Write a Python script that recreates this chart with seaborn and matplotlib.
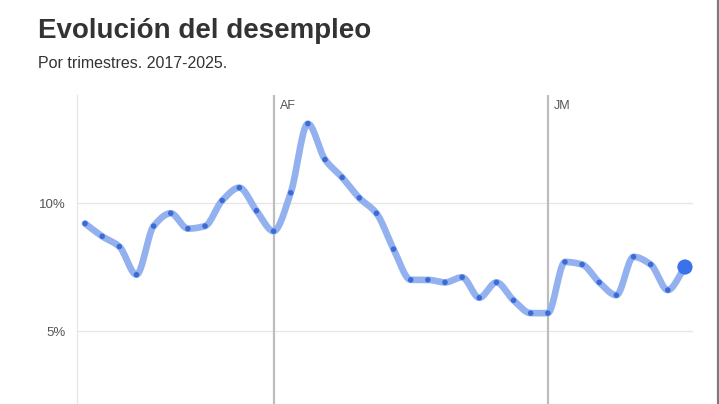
"""Evolución del desempleo: tasa trimestral 2017-2025."""

import matplotlib

matplotlib.use("Agg")

import matplotlib.pyplot as plt
import numpy as np
import pandas as pd
import seaborn as sns
from matplotlib.lines import Line2D

# quarters 2017Q1 .. 2025Q4
quarters = [f"{y}T{q}" for y in range(2017, 2026) for q in range(1, 5)]
unemployment = [
    9.2, 8.7, 8.3, 7.2,
    9.1, 9.6, 9.0, 9.1,
    10.1, 10.6, 9.7, 8.9,
    10.4, 13.1, 11.7, 11.0,
    10.2, 9.6, 8.2, 7.0,
    7.0, 6.9, 7.1, 6.3,
    6.9, 6.2, 5.7, 5.7,
    7.7, 7.6, 6.9, 6.4,
    7.9, 7.6, 6.6, 7.5,
]
markers_labels = ["AF", "JM"]
markers_quarters = ["2019T4", "2023T4"]
y_ticks = [5, 10]
y_tick_labels = ["5%", "10%"]

LINE_COLOR = "#93b1ee"
DOT_COLOR = "#3d6bd6"
LAST_COLOR = "#3a72ea"
TEXT_DARK = "#333333"
TEXT_MID = "#555555"


def monotone_curve(x, y, steps=16):
    """Monotone cubic (Fritsch-Carlson) through the points, only for drawing."""
    x = np.asarray(x, dtype=float)
    y = np.asarray(y, dtype=float)
    h = np.diff(x)
    d = np.diff(y) / h
    m = np.zeros_like(y)
    m[0], m[-1] = d[0], d[-1]
    for i in range(1, len(y) - 1):
        if d[i - 1] * d[i] <= 0:
            m[i] = 0.0
        else:
            w1 = 2 * h[i] + h[i - 1]
            w2 = h[i] + 2 * h[i - 1]
            m[i] = (w1 + w2) / (w1 / d[i - 1] + w2 / d[i])
    xs, ys = [], []
    t = np.linspace(0, 1, steps, endpoint=False)
    for i in range(len(y) - 1):
        h00 = 2 * t ** 3 - 3 * t ** 2 + 1
        h10 = t ** 3 - 2 * t ** 2 + t
        h01 = -2 * t ** 3 + 3 * t ** 2
        h11 = t ** 3 - t ** 2
        xs.extend(x[i] + t * h[i])
        ys.extend(h00 * y[i] + h10 * h[i] * m[i] + h01 * y[i + 1] + h11 * h[i] * m[i + 1])
    xs.append(x[-1])
    ys.append(y[-1])
    return np.array(xs), np.array(ys)


data = pd.DataFrame({"quarter": quarters, "rate": unemployment})
data["idx"] = np.arange(len(data))

sns.set_theme(style="white")
plt.rcParams["font.family"] = ["Liberation Sans", "DejaVu Sans"]

fig = plt.figure(figsize=(7.19, 4.04), dpi=100)
ax = fig.add_axes([77 / 719, 0, (693 - 77) / 719, (404 - 95) / 404])

n = len(data)
ax.set_xlim(-0.47, n - 1 + 0.47)
ax.set_ylim(2.15, 14.22)

for val in y_ticks:
    ax.axhline(val, color="#e6e6e6", linewidth=0.9, zorder=0)

for label, q in zip(markers_labels, markers_quarters):
    pos = quarters.index(q)
    ax.axvline(pos, color="#bdbdbd", linewidth=1.6, zorder=1)
    ax.text(pos + 0.38, 13.8, label, fontsize=9, color=TEXT_MID,
            ha="left", va="center")

sx, sy = monotone_curve(data["idx"], data["rate"])
ax.plot(sx, sy, color=LINE_COLOR, linewidth=4.8, solid_capstyle="round", zorder=2)
sns.scatterplot(data=data.iloc[:-1], x="idx", y="rate", ax=ax, color=DOT_COLOR,
                s=16, edgecolor="none", zorder=3, legend=False)
sns.scatterplot(data=data.iloc[-1:], x="idx", y="rate", ax=ax, color=LAST_COLOR,
                s=120, edgecolor="none", zorder=4, legend=False)

ax.set_xticks([])
ax.set_yticks(y_ticks)
ax.set_yticklabels(y_tick_labels, fontsize=9.5, color=TEXT_MID)
ax.tick_params(axis="y", length=0, pad=8)
ax.set_xlabel("")
ax.set_ylabel("")
for side in ("top", "right", "bottom"):
    ax.spines[side].set_visible(False)
ax.spines["left"].set_color("#e6e6e6")
ax.spines["left"].set_linewidth(0.9)

fig.text(38 / 719, 1 - 31 / 404, "Evolución del desempleo", fontsize=20,
         fontweight="bold", color=TEXT_DARK, ha="left", va="center")
fig.text(38 / 719, 1 - 63 / 404, "Por trimestres. 2017-2025.", fontsize=11.5,
         color=TEXT_DARK, ha="left", va="center")

fig.add_artist(Line2D([717.5 / 719, 717.5 / 719], [0, 1], color="#7a7a7a",
                      linewidth=1.6, transform=fig.transFigure))

fig.savefig("out.png", dpi=100)
